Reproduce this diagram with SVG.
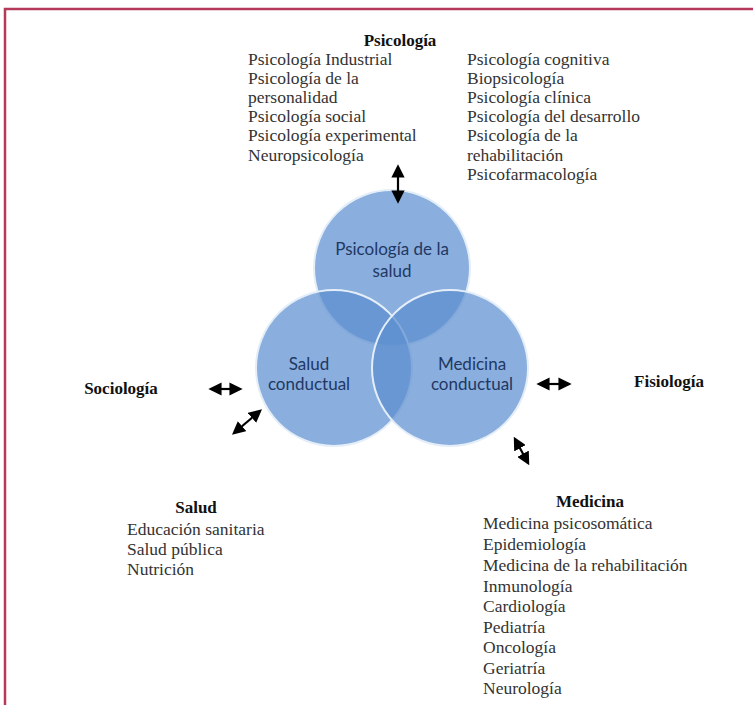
<svg xmlns="http://www.w3.org/2000/svg" width="753" height="705" viewBox="0 0 753 705">
<defs>
<style>
.h{font-family:"Liberation Serif","Times New Roman",serif;font-size:17px;font-weight:bold;fill:#111;text-anchor:middle}
.t{font-family:"Liberation Serif","Times New Roman",serif;font-size:17.5px;fill:#333}
.c{fill:#5d8fd0;fill-opacity:0.72;stroke:#e4eef8;stroke-width:2}
.ct{font-family:Lato,"Open Sans",sans-serif;font-size:17px;fill:#1f3864;text-anchor:middle}
.a{stroke:#000;stroke-width:2.2;fill:none;marker-start:url(#ah);marker-end:url(#ah)}
</style>
<marker id="ah" viewBox="0 0 10 10" refX="8" refY="5" markerWidth="6" markerHeight="6" orient="auto-start-reverse">
<path d="M0,0 L10,5 L0,10 z" fill="#000"/>
</marker>
</defs>
<rect width="753" height="705" fill="#fff"/>
<path d="M5,705 V9 H753" fill="none" stroke="#b5395a" stroke-width="2.5"/>

<g id="circles">
<g id="psicologia-salud"><circle class="c" cx="392" cy="268" r="78"/></g>
<g id="salud-conductual"><circle class="c" cx="334" cy="368" r="78"/></g>
<g id="medicina-conductual"><circle class="c" cx="450" cy="368" r="78"/></g>
<text class="ct" x="392" y="255">Psicología de la</text>
<text class="ct" x="392" y="277">salud</text>
<text class="ct" x="309" y="370">Salud</text>
<text class="ct" x="309" y="390">conductual</text>
<text class="ct" x="472" y="370">Medicina</text>
<text class="ct" x="472" y="390">conductual</text>
</g>

<g id="psicologia">
<text class="h" x="400" y="46">Psicología</text>
<text class="t" x="248" y="65">Psicología Industrial</text>
<text class="t" x="248" y="84">Psicología de la</text>
<text class="t" x="248" y="103">personalidad</text>
<text class="t" x="248" y="122">Psicología social</text>
<text class="t" x="248" y="141">Psicología experimental</text>
<text class="t" x="248" y="161">Neuropsicología</text>
<text class="t" x="467" y="65">Psicología cognitiva</text>
<text class="t" x="467" y="84">Biopsicología</text>
<text class="t" x="467" y="103">Psicología clínica</text>
<text class="t" x="467" y="122">Psicología del desarrollo</text>
<text class="t" x="467" y="141">Psicología de la</text>
<text class="t" x="467" y="161">rehabilitación</text>
<text class="t" x="467" y="180">Psicofarmacología</text>
</g>

<g id="sociologia"><text class="h" x="121" y="394">Sociología</text></g>
<g id="fisiologia"><text class="h" x="669" y="387">Fisiología</text></g>

<g id="salud">
<text class="h" x="196" y="513">Salud</text>
<text class="t" x="127" y="535">Educación sanitaria</text>
<text class="t" x="127" y="555">Salud pública</text>
<text class="t" x="127" y="575">Nutrición</text>
</g>

<g id="medicina">
<text class="h" x="590" y="507">Medicina</text>
<text class="t" x="483" y="529">Medicina psicosomática</text>
<text class="t" x="483" y="550">Epidemiología</text>
<text class="t" x="483" y="571">Medicina de la rehabilitación</text>
<text class="t" x="483" y="592">Inmunología</text>
<text class="t" x="483" y="612">Cardiología</text>
<text class="t" x="483" y="633">Pediatría</text>
<text class="t" x="483" y="653">Oncología</text>
<text class="t" x="483" y="674">Geriatría</text>
<text class="t" x="483" y="694">Neurología</text>
</g>

<g id="connectors">
<line class="a" x1="398" y1="167" x2="398" y2="201"/>
<line class="a" x1="211" y1="389" x2="240" y2="389"/>
<line class="a" x1="539" y1="384" x2="569" y2="384"/>
<line class="a" x1="234" y1="433" x2="260" y2="411"/>
<line class="a" x1="515" y1="439" x2="528" y2="463"/>
</g>
</svg>
